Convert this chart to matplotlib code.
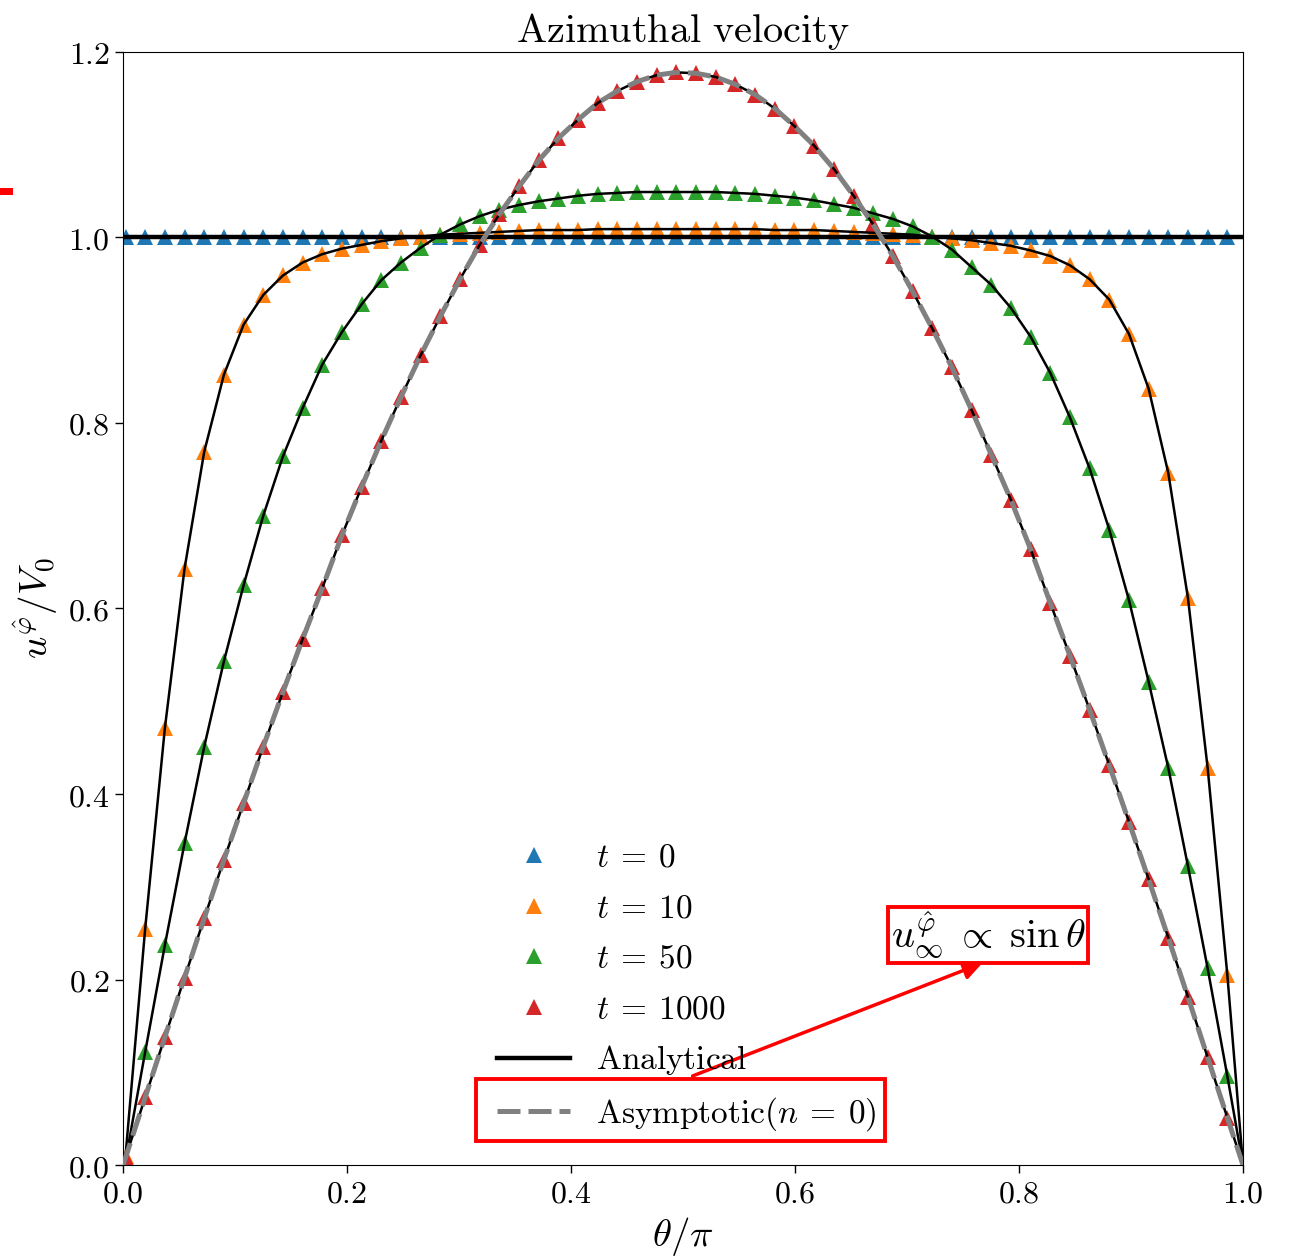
import numpy as np
import matplotlib
matplotlib.use("Agg")
import matplotlib.pyplot as plt
from matplotlib.patches import Rectangle
from matplotlib.ticker import FuncFormatter

plt.rcParams['mathtext.fontset'] = 'cm'

# polar angle of the sample points (theta / pi)
theta = np.linspace(0.0022, 0.986, 57)

u_t0 = [1.0] * 57
u_t10 = [0.010, 0.255, 0.471, 0.643, 0.769, 0.852, 0.906, 0.938, 0.959, 0.973,
         0.982, 0.988, 0.992, 0.996, 0.999, 1.001, 1.003, 1.004, 1.005, 1.006,
         1.007, 1.008, 1.008, 1.008, 1.009, 1.009, 1.009, 1.009, 1.009, 1.009,
         1.009, 1.009, 1.009, 1.008, 1.008, 1.008, 1.007, 1.006, 1.005, 1.004,
         1.003, 1.001, 0.999, 0.997, 0.994, 0.991, 0.986, 0.980, 0.970, 0.955,
         0.933, 0.896, 0.837, 0.746, 0.611, 0.428, 0.205]
u_t50 = [0.005, 0.122, 0.237, 0.347, 0.451, 0.543, 0.625, 0.700, 0.764, 0.816,
         0.863, 0.898, 0.928, 0.954, 0.973, 0.989, 1.003, 1.014, 1.023, 1.030,
         1.035, 1.039, 1.042, 1.045, 1.047, 1.048, 1.049, 1.049, 1.049, 1.049,
         1.049, 1.048, 1.047, 1.045, 1.043, 1.040, 1.036, 1.032, 1.026, 1.020,
         1.012, 1.001, 0.987, 0.968, 0.949, 0.924, 0.893, 0.854, 0.806, 0.751,
         0.685, 0.609, 0.521, 0.428, 0.322, 0.212, 0.096]
u_t1000 = [0.008, 0.073, 0.138, 0.202, 0.266, 0.329, 0.390, 0.451, 0.510, 0.567,
           0.622, 0.679, 0.731, 0.781, 0.828, 0.873, 0.915, 0.955, 0.992, 1.025,
           1.055, 1.083, 1.107, 1.127, 1.145, 1.158, 1.168, 1.175, 1.178, 1.177,
           1.173, 1.165, 1.154, 1.139, 1.120, 1.099, 1.074, 1.045, 1.014, 0.980,
           0.942, 0.902, 0.860, 0.814, 0.766, 0.717, 0.664, 0.606, 0.549, 0.491,
           0.431, 0.370, 0.308, 0.245, 0.181, 0.116, 0.051]

series = [(u_t0, 'tab:blue', r'$t\:=\:0$'),
          (u_t10, 'tab:orange', r'$t\:=\:10$'),
          (u_t50, 'tab:green', r'$t\:=\:50$'),
          (u_t1000, 'tab:red', r'$t\:=\:1000$')]

# curves are pinned to zero at the poles
theta_line = np.concatenate([[0.0], theta, [1.0]])

def pinned(u):
    return np.concatenate([[0.0], u, [0.0]])

fig = plt.figure(figsize=(12.94, 12.58), dpi=100)
ax = fig.add_axes([0.0951, 0.0739, 0.8655, 0.8848])

handles = []
for u, c, lab in series:
    h, = ax.plot(theta, u, '^', color=c, ms=11, mew=0, label=lab, zorder=2)
    handles.append(h)

h_an, = ax.plot([0.0, 1.0], [1.0, 1.0], color='k', lw=3.2, label=r'$\mathrm{Analytical}$', zorder=3)
for u in (u_t10, u_t50, u_t1000):
    ax.plot(theta_line, pinned(u), color='k', lw=1.8, zorder=3)
h_as, = ax.plot(theta_line, pinned(u_t1000), color='gray', lw=3.6, dashes=(4.6, 1.6),
                label=r'$\mathrm{Asymptotic}(n\:=\:0)$', zorder=4)
handles += [h_an, h_as]

ax.set_xlim(0, 1)
ax.set_ylim(0, 1.2)
ax.set_xticks(np.arange(0, 1.01, 0.2))
ax.set_yticks(np.arange(0, 1.21, 0.2))
fmt = FuncFormatter(lambda v, p: r'$%.1f$' % v)
ax.xaxis.set_major_formatter(fmt)
ax.yaxis.set_major_formatter(fmt)
ax.tick_params(labelsize=23, length=6, width=1)

ax.set_title(r'$\mathrm{Azimuthal\ velocity}$', fontsize=29, pad=2)
ax.set_xlabel(r'$\theta/\pi$', fontsize=28, labelpad=4)
ax.set_ylabel(r'$u^{\hat{\varphi}}/V_0$', fontsize=28, labelpad=6)

ax.legend(handles=handles, loc='lower left', bbox_to_anchor=(0.31, 0.005),
          frameon=False, fontsize=24, handlelength=2.2, handletextpad=0.78,
          labelspacing=0.53, borderpad=0.3)

# highlight boxes and arrow
W, H = 1294.0, 1258.0
fig.text(988 / W, 1 - 935 / H, r'$u^{\hat{\varphi}}_{\infty}\;\propto\;\sin\theta$',
         ha='center', va='center', fontsize=29,
         bbox=dict(boxstyle='square,pad=0.06', fc='none', ec='red', lw=2.8))
fig.add_artist(Rectangle((476 / W, 1 - 1141 / H), (885 - 476) / W, (1141 - 1079) / H,
                         transform=fig.transFigure, fill=False, ec='red', lw=2.8))
ax.annotate('', xy=(985 / W, 1 - 962 / H), xytext=(690 / W, 1 - 1077 / H),
            xycoords='figure fraction', textcoords='figure fraction',
            arrowprops=dict(arrowstyle='-|>', color='red', lw=2.5, mutation_scale=28))
fig.add_artist(Rectangle((0, 1 - 195 / H), 13 / W, 7 / H, transform=fig.transFigure,
                         color='red', lw=0))

fig.savefig('out.png', dpi=100)
